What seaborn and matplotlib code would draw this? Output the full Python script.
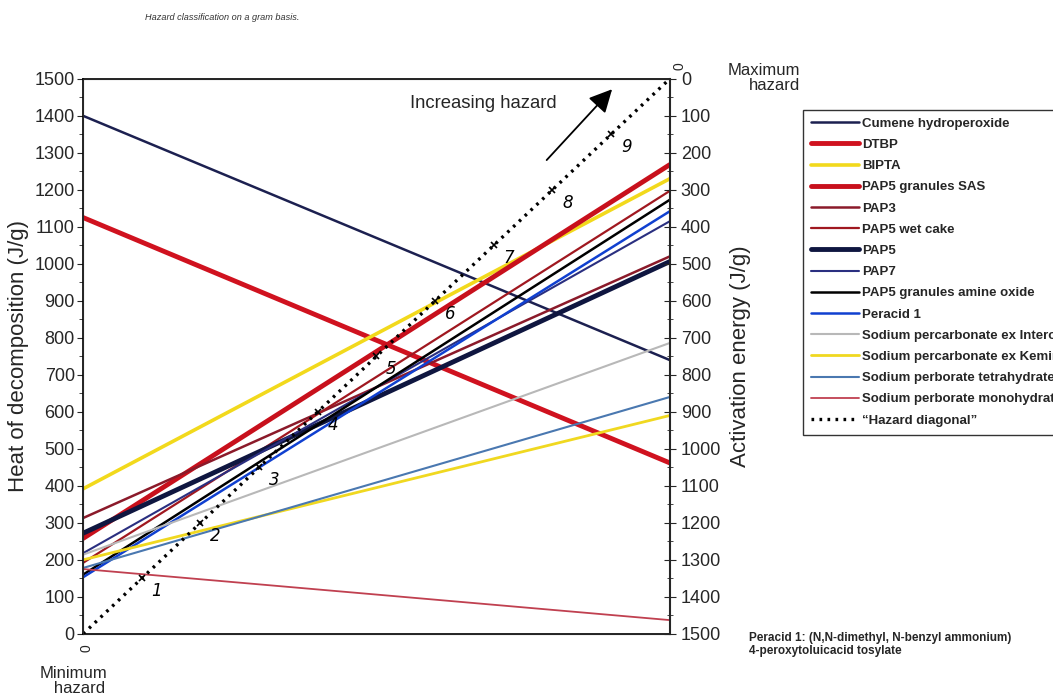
import numpy as np
import pandas as pd
import matplotlib
matplotlib.use("Agg")
import matplotlib.pyplot as plt
import seaborn as sns

# data: heat of decomposition (left end) and activation energy (right end)
names = ["Cumene hydroperoxide", "DTBP", "BIPTA", "PAP5 granules SAS", "PAP3",
         "PAP5 wet cake", "PAP5", "PAP7", "PAP5 granules amine oxide", "Peracid 1",
         "Sodium percarbonate ex Interox", "Sodium percarbonate ex Kemira",
         "Sodium perborate tetrahydrate", "Sodium perborate monohydrate"]
heat = [1400, 1125, 392, 258, 313, 192, 272, 218, 160, 153, 214, 200, 178, 175]
act_energy = [760, 1038, 270, 232, 480, 303, 494, 385, 327, 358, 714, 910, 860, 1463]

colors = ["#1c2050", "#d0121f", "#f2d91c", "#c8101c", "#8b1a2a",
          "#a01820", "#0f1640", "#2a2f80", "#000000", "#1040d0",
          "#b8b8b8", "#f0d820", "#4a78b0", "#c04050"]
widths = [1.8, 3.5, 2.6, 3.5, 1.8, 1.6, 3.5, 1.5, 1.8, 1.8, 1.5, 2.0, 1.5, 1.3]

hazard_levels = [1, 2, 3, 4, 5, 6, 7, 8, 9]
EMAX = 1500

rows = []
for n, h, e in zip(names, heat, act_energy):
    rows.append({"name": n, "x": 0, "y": h})
    rows.append({"name": n, "x": 1, "y": EMAX - e})
df = pd.DataFrame(rows)

sns.set_style("ticks")
plt.rcParams["font.family"] = ["Liberation Sans", "DejaVu Sans"]

fig = plt.figure(figsize=(10.53, 6.98), dpi=100)
ax = fig.add_axes([0.079, 0.092, 0.557, 0.795])

for n, c, w in zip(names, colors, widths):
    sub = df[df["name"] == n]
    sns.lineplot(data=sub, x="x", y="y", color=c, linewidth=w, ax=ax, label=n)

# hazard diagonal
diag = pd.DataFrame({"x": [0, 1], "y": [0, EMAX]})
sns.lineplot(data=diag, x="x", y="y", color="black", linewidth=2.4,
             linestyle=(0, (0.8, 1.6)), ax=ax, label="\u201cHazard diagonal\u201d")

# hand marked hazard classes along the diagonal
for lv in hazard_levels:
    fx = lv / 10
    ax.plot(fx, fx * EMAX, marker="x", color="black", markersize=5, mew=1.2)
    ax.annotate(str(lv), (fx, fx * EMAX), xytext=(7, -13), textcoords="offset points",
                fontsize=12, style="italic", family="DejaVu Sans", color="black")

ax.set_xlim(0, 1)
ax.set_ylim(0, 1500)
ax.set_xticks([])
ax.set_xlabel("")
ax.set_yticks(np.arange(0, 1501, 100))
ax.set_yticks(np.arange(0, 1501, 50), minor=True)
ax.tick_params(axis="y", which="major", direction="out", length=4, pad=2, labelsize=13)
ax.tick_params(axis="y", which="minor", direction="out", length=3)
ax.set_ylabel("Heat of decomposition (J/g)", fontsize=16, labelpad=4)
for s in ax.spines.values():
    s.set_linewidth(1.2)
    s.set_color("black")
ax.legend_.remove()

ax2 = ax.twinx()
ax2.set_ylim(EMAX, 0)
ax2.set_yticks(np.arange(0, 1501, 100))
ax2.set_yticks(np.arange(0, 1501, 50), minor=True)
ax2.tick_params(axis="y", which="major", direction="inout", length=9, labelsize=13)
ax2.tick_params(axis="y", which="minor", direction="inout", length=5)
ax2.set_ylabel("Activation energy (J/g)", fontsize=16, labelpad=6)
ax2.spines["right"].set_linewidth(1.5)

# annotations
ax.text(0.683, 0.955, "Increasing hazard", transform=ax.transAxes, fontsize=13.3,
        ha="center", va="center")
ax.annotate("", xy=(0.905, 0.985), xytext=(0.787, 0.85), xycoords="axes fraction",
            arrowprops=dict(arrowstyle="-|>,head_length=1.4,head_width=0.7",
                            color="black", lw=1.3))
fig.text(0.760, 0.888, "Maximum\nhazard", ha="right", va="center", fontsize=12,
         linespacing=1.0)
fig.text(0.038, 0.025, "Minimum\n   hazard", ha="left", va="center", fontsize=12,
         linespacing=1.0)
fig.text(0.645, 0.905, "0", rotation=90, fontsize=10, ha="center", va="center")
fig.text(0.082, 0.072, "0", rotation=90, fontsize=10, ha="center", va="center")
fig.text(0.138, 0.975, "Hazard classification on a gram basis.", style="italic",
         fontsize=6.6, color="#333333", ha="left", va="center")
fig.text(0.711, 0.077, "Peracid 1: (N,N-dimethyl, N-benzyl ammonium)\n4-peroxytoluicacid tosylate",
         fontsize=8.5, weight="bold", ha="left", va="center", linespacing=1.1)

# legend
handles, labels = ax.get_legend_handles_labels()
leg = fig.legend(handles, labels, loc="upper left", bbox_to_anchor=(0.763, 0.843),
                 prop={"weight": "bold", "size": 9.5}, frameon=True,
                 fancybox=False, edgecolor="black", handlelength=3.6,
                 handletextpad=0.25, labelspacing=0.68, borderpad=0.6,
                 borderaxespad=0)
leg.get_frame().set_linewidth(1.0)

fig.savefig("out.png", dpi=100)
